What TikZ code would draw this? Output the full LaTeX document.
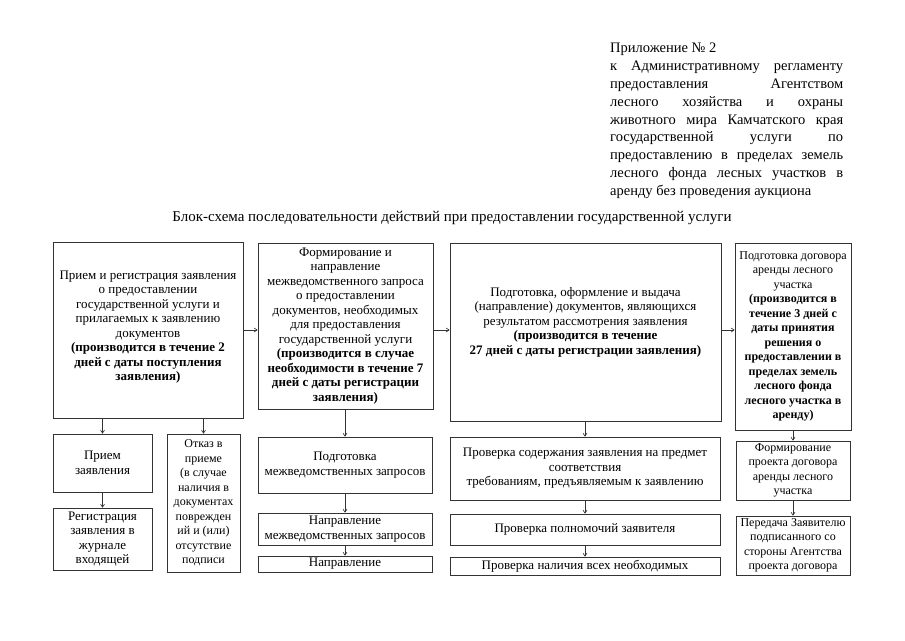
\documentclass[tikz,border=0pt]{standalone}
\usepackage{fontspec}
\setmainfont{Liberation Serif}
\usetikzlibrary{arrows.meta}
\tikzset{
  box/.style={draw=black!80, line width=0.7pt, inner sep=0pt, align=center,
    font=\fontsize{13}{14.5}\selectfont},
  nbox/.style={box, font=\fontsize{12}{14.5}\selectfont},
  bx/.style 2 args={minimum width=#1pt, minimum height=#2pt},
  arr/.style={draw=black!80, line width=0.6pt, -{Straight Barb[length=3pt,width=4pt]}},
}
\begin{document}
\begin{tikzpicture}[x=1pt,y=-1pt]
\useasboundingbox (0,0) rectangle (905,640);
% header
\node[anchor=north west, inner sep=0pt, align=left, font=\fontsize{14.5}{17.8}\selectfont] (hdr) at (610,43)
 {Приложение № 2\\
  \makebox[233pt][s]{к Административному регламенту}\\
  \makebox[233pt][s]{предоставления\hfill Агентством}\\
  \makebox[233pt][s]{лесного хозяйства и охраны}\\
  \makebox[233pt][s]{животного мира Камчатского края}\\
  \makebox[233pt][s]{государственной\hfill услуги\hfill по}\\
  \makebox[233pt][s]{предоставлению в пределах земель}\\
  \makebox[233pt][s]{лесного фонда лесных участков в}\\
  аренду без проведения аукциона};
\node[inner sep=0pt, font=\fontsize{15}{17}\selectfont] (title) at (452,218)
 {Блок-схема последовательности действий при предоставлении государственной услуги};
% top row
\node[box, bx={190}{176}] (A) at (148,330)
 {Прием и регистрация заявления\\о предоставлении\\государственной услуги и\\прилагаемых к заявлению\\документов\\
  \textbf{(производится в течение 2}\\\textbf{дней с даты поступления}\\\textbf{заявления)}\\[-6pt]};
\node[box, bx={175}{166}] (B) at (345.5,326)
 {Формирование и\\направление\\межведомственного запроса\\о предоставлении\\документов, необходимых\\для предоставления\\государственной услуги\\
  \textbf{(производится в случае}\\\textbf{необходимости в течение 7}\\\textbf{дней с даты регистрации}\\\textbf{заявления)}};
\node[box, bx={271}{178}] (C) at (585.5,332)
 {Подготовка, оформление и выдача\\(направление) документов, являющихся\\результатом рассмотрения заявления\\
  \textbf{(производится в течение}\\\textbf{27 дней с даты регистрации заявления)}\\[8pt]};
\node[nbox, bx={116}{187}] (D) at (793,336.5)
 {Подготовка договора\\аренды лесного\\участка\\
  \textbf{(производится в}\\\textbf{течение 3 дней с}\\\textbf{даты принятия}\\\textbf{решения о}\\\textbf{предоставлении в}\\\textbf{пределах земель}\\\textbf{лесного фонда}\\\textbf{лесного участка в}\\\textbf{аренду)}};
% column 1
\node[box, bx={99}{58}] (P1) at (102.5,463) {Прием\\заявления};
\node[box, bx={99}{62}] (P2) at (102.5,539) {Регистрация\\заявления в\\журнале\\входящей};
\node[nbox, bx={73}{138}] (O) at (203.5,503)
 {Отказ в\\приеме\\(в случае\\наличия в\\документах\\поврежден\\ий и (или)\\отсутствие\\подписи};
% column 2
\node[box, bx={174}{56}] (Q1) at (345,465) {Подготовка\\межведомственных запросов};
\node[box, bx={174}{32}] (Q2) at (345,529) {Направление\\межведомственных запросов};
\node[box, bx={174}{16}] (Q3) at (345,564) {Направление};
% column 3
\node[box, bx={270}{63}] (R1) at (585,468.5)
 {Проверка содержания заявления на предмет\\соответствия\\требованиям, предъявляемым к заявлению};
\node[box, bx={270}{31}] (R2) at (585,529.5) {Проверка полномочий заявителя};
\node[box, bx={270}{18}] (R3) at (585,566) {Проверка наличия всех необходимых};
% column 4
\node[nbox, bx={114}{59}] (S1) at (793,470.5) {Формирование\\проекта договора\\аренды лесного\\участка};
\node[nbox, bx={114}{59}] (S2) at (793,545.5) {Передача Заявителю\\подписанного со\\стороны Агентства\\проекта договора};
% connectors
\draw[arr] (A.east) -- (A.east -| B.west);
\draw[arr] (B.east |- A.east) -- (A.east -| C.west);
\draw[arr] (C.east |- A.east) -- (A.east -| D.west);
\draw[arr] (A.south -| P1.north) -- (P1.north);
\draw[arr] (A.south -| O.north) -- (O.north);
\draw[arr] (P1.south) -- (P2.north);
\draw[arr] (B.south -| Q1.north) -- (Q1.north);
\draw[arr] (Q1.south) -- (Q2.north);
\draw[arr] (Q2.south) -- (Q3.north);
\draw[arr] (C.south -| R1.north) -- (R1.north);
\draw[arr] (R1.south) -- (R2.north);
\draw[arr] (R2.south) -- (R3.north);
\draw[arr] (D.south -| S1.north) -- (S1.north);
\draw[arr] (S1.south) -- (S2.north);
\end{tikzpicture}
\end{document}
